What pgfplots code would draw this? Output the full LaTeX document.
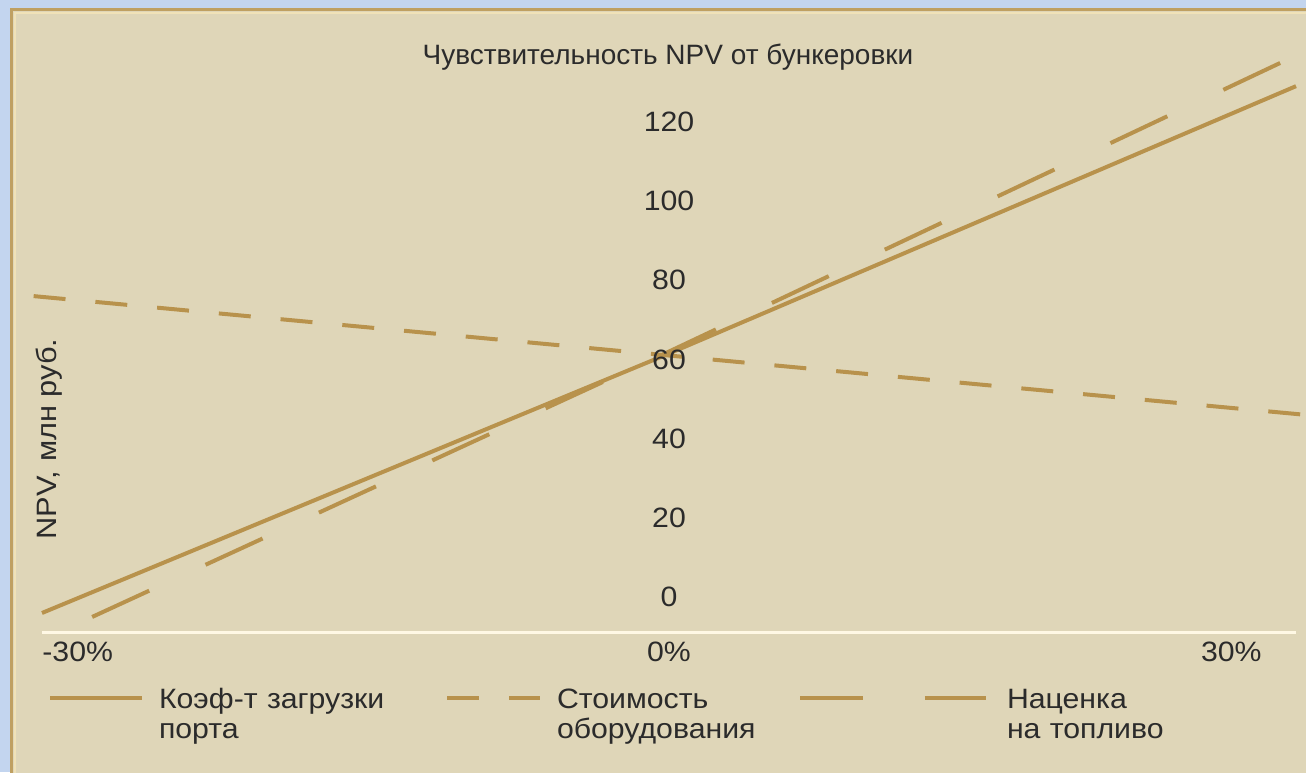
\documentclass[border=0pt]{standalone}
\usepackage{pgfplots}
\pgfplotsset{compat=1.18}
\usepackage{fontspec}
\setmainfont{Liberation Sans}
\newfontfamily\widefont[FakeStretch=1.08]{Liberation Sans}
\newfontfamily\widerfont[FakeStretch=1.1]{Liberation Sans}
\definecolor{bgblue}{HTML}{C3D5EF}
\definecolor{beige}{HTML}{DFD6B8}
\definecolor{gold}{HTML}{B8924C}
\definecolor{framec}{HTML}{BFA062}
\definecolor{framehi}{HTML}{F0E2B8}
\definecolor{axisw}{HTML}{FFF8E4}
\definecolor{txt}{HTML}{2B2B2B}
\newcommand{\lbl}{\widefont\fontsize{14}{15}\selectfont}
\newcommand{\ttl}{\fontsize{14}{16}\selectfont}
\pgfplotsset{
  limgA/.style={legend image code/.code={\draw[##1] (0pt,5pt) -- (46pt,5pt);}},
  limgB/.style={legend image code/.code={\draw[##1] (0pt,5pt) -- (46.5pt,5pt);}},
  limgC/.style={legend image code/.code={\draw[##1] (0pt,5pt) -- (93pt,5pt);}},
}
\begin{document}
\begin{tikzpicture}[x=1pt,y=1pt]
\clip (0,0) rectangle (653,386);
\fill[bgblue] (0,0) rectangle (653,386);
\filldraw[fill=beige, draw=framec, line width=1.6pt] (5.8,-10) rectangle (670,381.2);
\draw[framehi, line width=0.8pt] (7.5,-10) -- (7.5,379.5) -- (670,379.5);

\begin{axis}[
  at={(21pt,70pt)}, anchor=south west,
  scale only axis, width=627pt, height=294.7pt,
  xmin=-30, xmax=30, ymin=-8.8, ymax=140,
  axis x line=bottom, axis y line=none,
  x axis line style={draw=axisw, line width=1.5pt, -},
  xtick=\empty, ytick=\empty,
  clip=false,
  legend columns=3,
  legend style={at={(axis description cs:0.0048,-0.095)}, anchor=north west,
    draw=none, fill=none, inner sep=0pt, outer sep=0pt,
    nodes={anchor=base west, inner sep=0pt, text width=115pt, align=left, font=\lbl, text=txt},
    /tikz/column 1/.style={column sep=7.5pt},
    /tikz/column 2/.style={column sep=28pt},
    /tikz/column 3/.style={column sep=7.5pt},
    /tikz/column 4/.style={column sep=5.5pt},
    /tikz/column 5/.style={column sep=9.5pt},
  },
]
\addplot[gold, line width=2pt, mark=none, limgA]
  coordinates {(-30,-4) (0,61.5) (30,129)};
\addlegendentry{Коэф-т загрузки\\порта}
\addplot[gold, line width=2pt, mark=none, dash pattern=on 16pt off 15pt, limgB]
  coordinates {(-30.4,76) (0,61) (30.5,46)};
\addlegendentry{Стоимость\\оборудования}
\addplot[gold, line width=2pt, mark=none, dash pattern=on 31.4pt off 31pt, limgC]
  coordinates {(-27.6,-5) (0,62) (29.3,135)};
\addlegendentry{Наценка\\на топливо}
\node[font=\lbl, text=txt] at (axis cs:0,0) {0};
\node[font=\lbl, text=txt] at (axis cs:0,20) {20};
\node[font=\lbl, text=txt] at (axis cs:0,40) {40};
\node[font=\lbl, text=txt] at (axis cs:0,60) {60};
\node[font=\lbl, text=txt] at (axis cs:0,80) {80};
\node[font=\lbl, text=txt] at (axis cs:0,100) {100};
\node[font=\lbl, text=txt] at (axis cs:0,120) {120};
\end{axis}

\node[font=\ttl, text=txt, anchor=base] at (334,353.7) {Чувствительность NPV от бункеровки};
\node[font=\lbl, text=txt, anchor=base west, inner sep=0pt] at (21,55.5) {-30\%};
\node[font=\lbl, text=txt, anchor=base, inner sep=0pt] at (334.5,55.5) {0\%};
\node[font=\lbl, text=txt, anchor=base east, inner sep=0pt] at (631,55.5) {30\%};
\node[font={\widerfont\fontsize{14}{16}\selectfont}, text=txt, rotate=90] at (24.5,166.5) {NPV, млн руб.};
\end{tikzpicture}
\end{document}
